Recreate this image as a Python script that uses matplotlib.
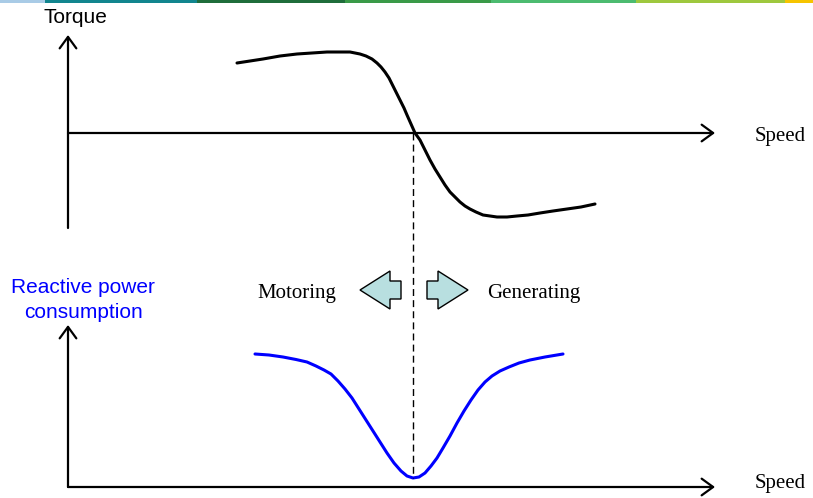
import numpy as np
import matplotlib
matplotlib.use('Agg')
import matplotlib.pyplot as plt
import matplotlib.patches as mpatches

# Schematic drawn on a pixel-like canvas (x right, y down), 813 x 498

# -- torque vs speed curve (top diagram)
torque_x = [237, 250, 263, 280, 297, 312, 327, 340, 350, 360, 366, 372, 377,
            381, 385, 389, 393, 397, 400, 404, 407, 411, 415,
            420, 425, 430, 435, 440, 445, 450, 455, 460, 465, 470, 476, 483,
            490, 497, 507, 517, 528, 540, 553, 567, 581, 595]
torque_y = [63, 61, 59, 56, 54, 53, 52, 52, 52, 54, 56, 59, 63,
            67, 72, 78, 86, 94, 100, 108, 115, 124, 133,
            140, 150, 160, 169, 177, 185, 192, 197, 202, 206, 209, 212, 215,
            216, 217, 217, 216, 215, 213, 211, 209, 207, 204]

# -- reactive power consumption vs speed (bottom diagram)
reactive_x = [255, 269, 283, 296, 307, 316, 324, 331, 338, 345, 352, 359, 366,
              373, 380, 387, 394, 401, 407, 413, 419, 425, 431, 437, 443, 450,
              457, 464, 471, 478, 485, 492, 500, 509, 519, 530, 545, 563]
reactive_y = [354, 355, 357, 359.5, 362, 366, 370, 374, 381, 389, 398, 409,
              420, 431, 442, 453, 463, 471, 476, 478, 477, 473, 466, 458, 448,
              436, 423, 411, 400, 390, 382, 376, 371, 367, 363, 360, 357, 354]

sync_speed = 413   # zero-torque / minimum reactive power point

# -- coloured banner along the top edge
banner_edges = [0, 45, 197, 345, 491, 636, 785, 813]
banner_colors = ['#a9cbe6', '#12858e', '#1f6d3b', '#3a9a48',
                 '#4cbb70', '#9ec83e', '#f6c400']

fig = plt.figure(figsize=(8.13, 4.98), dpi=100)
ax = fig.add_axes([0, 0, 1, 1])
ax.set_xlim(0, 813)
ax.set_ylim(498, 0)
ax.axis('off')

# banner
segs = [(a, b - a) for a, b in zip(banner_edges[:-1], banner_edges[1:])]
ax.broken_barh(segs, (0, 3), facecolors=banner_colors, linewidth=0)

ax_style = dict(arrowstyle='->,head_length=0.55,head_width=0.4',
                lw=1.6, color='black', shrinkA=0, shrinkB=0,
                mutation_scale=15)

# ── top: torque axes ─────────────────────────────────────────────────────────
ax.annotate('', xy=(68, 35), xytext=(68, 228), arrowprops=ax_style)
ax.annotate('', xy=(715, 133), xytext=(68, 133), arrowprops=ax_style)
ax.plot(torque_x, torque_y, color='black', lw=2.2,
        solid_joinstyle='round', solid_capstyle='round')

ax.text(75, 17, 'Torque', family='Liberation Sans', fontsize=15,
        ha='center', va='center')
ax.text(755, 136, 'Speed', family='Liberation Serif', fontsize=15,
        ha='left', va='center')

# ── bottom: reactive power axes ─────────────────────────────────────────────
ax.annotate('', xy=(68, 325), xytext=(68, 487), arrowprops=ax_style)
ax.annotate('', xy=(715, 487), xytext=(68, 487), arrowprops=ax_style)
ax.plot(reactive_x, reactive_y, color='#0000ff', lw=2.2,
        solid_joinstyle='round', solid_capstyle='round')

ax.text(83, 300, 'Reactive power\nconsumption', family='Liberation Sans',
        fontsize=15, color='#0000ff', ha='center', va='center',
        linespacing=1.35)
ax.text(755, 483, 'Speed', family='Liberation Serif', fontsize=15,
        ha='left', va='center')

# dashed line at synchronous speed
ax.plot([sync_speed, sync_speed], [133, 478], color='black', lw=1.0,
        dashes=(5, 3))

# motoring / generating block arrows
arrow_kw = dict(width=18, head_width=38, head_length=30,
                length_includes_head=True, facecolor='#b8dfe0',
                edgecolor='black', linewidth=1.0)
ax.add_patch(mpatches.FancyArrow(401, 290, -41, 0, **arrow_kw))
ax.add_patch(mpatches.FancyArrow(427, 290, 41, 0, **arrow_kw))

ax.text(297, 293, 'Motoring', family='Liberation Serif', fontsize=15,
        ha='center', va='center')
ax.text(534, 293, 'Generating', family='Liberation Serif', fontsize=15,
        ha='center', va='center')

plt.savefig('out.png', dpi=100)
plt.close()
